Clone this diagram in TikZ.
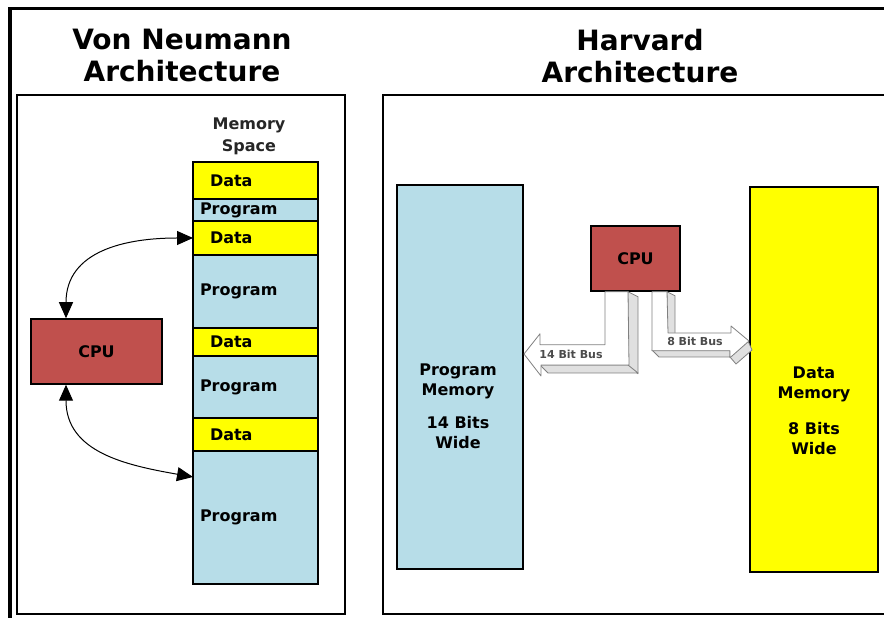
\documentclass[tikz,border=0pt]{standalone}
\usepackage{fontspec}
\setmainfont{DejaVu Sans}
\usepackage{tikz}
\usetikzlibrary{arrows.meta,positioning}
\definecolor{memblue}{HTML}{B7DDE8}
\definecolor{memyellow}{HTML}{FFFF00}
\definecolor{cpured}{HTML}{C0504D}
\definecolor{busgray}{HTML}{808080}
\begin{document}
\begin{tikzpicture}[x=1pt,y=1pt,
seg/.style={draw,line width=1.5pt,outer sep=0pt,inner ysep=0pt,align=left,font=\fontsize{16}{18}\selectfont\bfseries},
datseg/.style={seg,fill=memyellow,line width=2pt,inner xsep=17pt,text width=91pt},
progseg/.style={seg,fill=memblue,inner xsep=7pt,text width=111pt},
cpu/.style={draw,line width=1.5pt,fill=cpured,font=\fontsize{16}{18}\selectfont\bfseries},
title/.style={align=center,font=\fontsize{28}{32}\selectfont\bfseries},
lbl/.style={align=center,font=\fontsize{16}{20}\selectfont\bfseries},
bus/.style={draw=busgray,fill=white,line width=0.8pt,line join=round},
busside/.style={draw=busgray,fill=black!12,line width=0.8pt,line join=round},
buslbl/.style={font=\fontsize{11}{12}\selectfont\bfseries,text=black!70},
link/.style={{Triangle[length=16pt,width=14pt]}-{Triangle[length=16pt,width=14pt]},line width=1pt}]
\useasboundingbox(0,0)rectangle(884,618);
\draw[line width=4pt](10,0)--(10,611);
\draw[line width=3pt](8,609)--(884,609);
\draw[line width=2pt](17,4)rectangle(345,523);
\draw[line width=2pt](884,523)--(383,523)--(383,4)--(884,4);
\node[title](vntitle)at(182,562){Von Neumann\\Architecture};
\node[title](hvtitle)at(640,562){Harvard\\Architecture};
% von neumann side
\node[align=center,font=\fontsize{16}{22}\selectfont\bfseries,text=black!85](memspace)at(249,482){Memory\\Space};
\node[datseg,minimum height=37pt,anchor=north west](d1)at(193,456){Data};
\node[progseg,minimum height=22pt,below=0pt of d1](p1){Program};
\node[datseg,minimum height=34pt,below=0pt of p1](d2){Data};
\node[progseg,minimum height=73pt,below=0pt of d2](p2){Program};
\node[datseg,minimum height=28pt,below=0pt of p2](d3){Data};
\node[progseg,minimum height=62pt,below=0pt of d3](p3){Program};
\node[datseg,minimum height=33pt,below=0pt of p3](d4){Data};
\node[progseg,minimum height=133pt,below=0pt of d4](p4){Program};
\node[cpu,minimum width=131pt,minimum height=65pt](cpuL)at(96.5,266.5){CPU};
\draw[link]([xshift=-30.5pt]cpuL.north)to[out=90,in=180,looseness=1.15](d2.west);
\draw[link]([xshift=-30.5pt]cpuL.south)to[out=-90,in=170,looseness=1.1]([yshift=-26pt]p4.north west);
% harvard side
\node[draw,line width=2pt,fill=memblue,minimum width=126pt,minimum height=384pt](pmem)at(460,241){};
\node[lbl](pmemtxt)at(458,211.5){Program\\Memory\\[13pt]14 Bits\\Wide};
\node[draw,line width=2pt,fill=memyellow,minimum width=128pt,minimum height=385pt](dmem)at(814,238.5){};
\node[lbl](dmemtxt)at(814,207){Data\\Memory\\[16pt]8 Bits\\Wide};
\node[cpu,minimum width=89pt,minimum height=65pt](cpuR)at(635.5,359.5){CPU};
\draw[busside]([xshift=-7.5pt]cpuR.south)--++(10,-5)--++(0,-77)--++(-10,8)--cycle;
\draw[busside](540,253)--(628,253)--(638,245)--(548,245)--cycle;
\draw[bus]([xshift=-30.5pt]cpuR.south)--++(0,-53)--++(-65,0)--++(0,11)--([yshift=23pt]pmem.east)
--++(17,-22)--++(0,11)--++(88,0)--([xshift=-7.5pt]cpuR.south)--cycle;
\node[buslbl](bus14)at(571,264){14 Bit Bus};
\draw[busside]([xshift=31.5pt]cpuR.south)--++(8,-4)--++(0,-38)--++(-8,0)--cycle;
\draw[busside](652,268)--(659,261)--(730,261)--(730,268)--cycle;
\draw[busside](748,277)--(752,268)--(736,254)--(730,261)--cycle;
\draw[bus]([xshift=16.5pt]cpuR.south)--++(0,-59)--++(78,0)--++(0,-7)--([yshift=38.5pt]dmem.west)
--++(-18,15)--++(0,-7)--++(-63,0)--([xshift=31.5pt]cpuR.south)--cycle;
\node[buslbl](bus8)at(695,277){8 Bit Bus};
\end{tikzpicture}
\end{document}
